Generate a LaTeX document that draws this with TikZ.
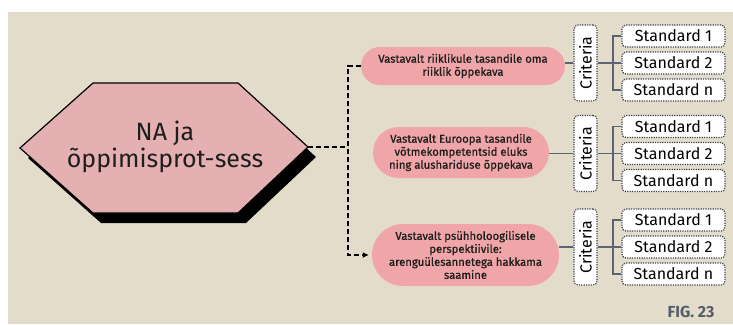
\documentclass[tikz,border=0pt]{standalone}
\usepackage{fontspec}
\usepackage{graphicx}
\setmainfont{Fira Sans}
\newfontfamily\pillfont{Fira Sans}[FakeBold=0.9]
\usetikzlibrary{arrows.meta,shapes.misc}

\definecolor{bgbeige}{HTML}{E4DCCA}
\definecolor{hexpink}{HTML}{E4B0B2}
\definecolor{pillpink}{HTML}{F0A6A8}
\definecolor{linegrey}{HTML}{5B6372}
\definecolor{dotgrey}{HTML}{3A404A}
\definecolor{figgrey}{HTML}{555D6A}
\definecolor{inkdark}{HTML}{1E1E1E}

\tikzset{
  pill/.style={rounded rectangle, fill=pillpink, draw=none, align=center,
    text=inkdark, font=\pillfont\fontsize{11.3}{13}\selectfont, inner sep=2pt},
  dotbox/.style={draw=dotgrey, fill=white, line width=1.2pt,
    dash pattern=on 1.2pt off 1.2pt, rounded corners=4pt, inner sep=0pt,
    text=black, font=\fontsize{16}{18}\selectfont},
  critbox/.style={dotbox, minimum width=23pt, minimum height=76pt},
  stdbox/.style={dotbox, minimum width=103pt, minimum height=22pt},
  greyline/.style={draw=linegrey, line width=1.8pt},
  dashline/.style={draw=black, line width=1.6pt, dash pattern=on 5pt off 3pt},
}

\begin{document}
\begin{tikzpicture}[x=1pt,y=-1pt]
\useasboundingbox (0,0) rectangle (733,324);
\fill[bgbeige] (8,12) rectangle (733,324);

% central hexagon with its drop shadow
\fill[black] (28,158) -- (101,93) -- (246,93) -- (316,157) -- (246,223) -- (101,223) -- cycle;
\draw[fill=hexpink, draw=black, line width=1.2pt]
  (20,148) -- (93,83) -- (238,83) -- (308,147) -- (238,213) -- (93,213) -- cycle;
\coordinate (hexR) at (308,147);
\node[align=center, text=inkdark, font=\fontsize{25}{27}\selectfont] (hex) at (165,147)
  {NA ja\\õppimisprot-sess};

% branches
\node[pill, minimum width=208pt, minimum height=38pt] (p1) at (463,66)
  {Vastavalt riiklikule tasandile oma\\riiklik õppekava};
\node[pill, minimum width=180pt, minimum height=51pt] (p2) at (461,152.5)
  {Vastavalt Euroopa tasandile\\võtmekompetentsid eluks\\ning alushariduse õppekava};
\node[pill, minimum width=191pt, minimum height=62pt] (p3) at (465.5,255)
  {Vastavalt psühholoogilisele\\perspektiivile:\\arenguülesannetega hakkama\\saamine};

\coordinate (tj) at (348,147);
\draw[dashline] (hexR) -- (tj);
\draw[dashline, -{Latex[length=6pt,width=6pt]}, shorten >=3pt] (p1.west) -| (tj) |- (p3.west);

% criteria and standards
\foreach \i/\cy in {1/63, 2/153.5, 3/247} {
  \node[critbox] (c\i) at (585.5,\cy) {\rotatebox{90}{Criteria}};
  \node[stdbox] (s\i a) at (673.5,\cy-27) {Standard 1};
  \node[stdbox] (s\i b) at (673.5,\cy) {Standard 2};
  \node[stdbox] (s\i c) at (673.5,\cy+27) {Standard n};
  \draw[greyline] (c\i.west) -- (c\i.west -| p\i.east);
  \draw[greyline] (c\i.east) -- ++(15,0) coordinate (b\i);
  \draw[greyline] (s\i a.west) -| (b\i) |- (s\i c.west);
  \draw[greyline] (s\i b.west) -- (b\i);
}

\node[anchor=base east, text=figgrey, font=\fontsize{16}{18}\selectfont\bfseries] (fig) at (718,317) {FIG. 23};
\end{tikzpicture}
\end{document}
